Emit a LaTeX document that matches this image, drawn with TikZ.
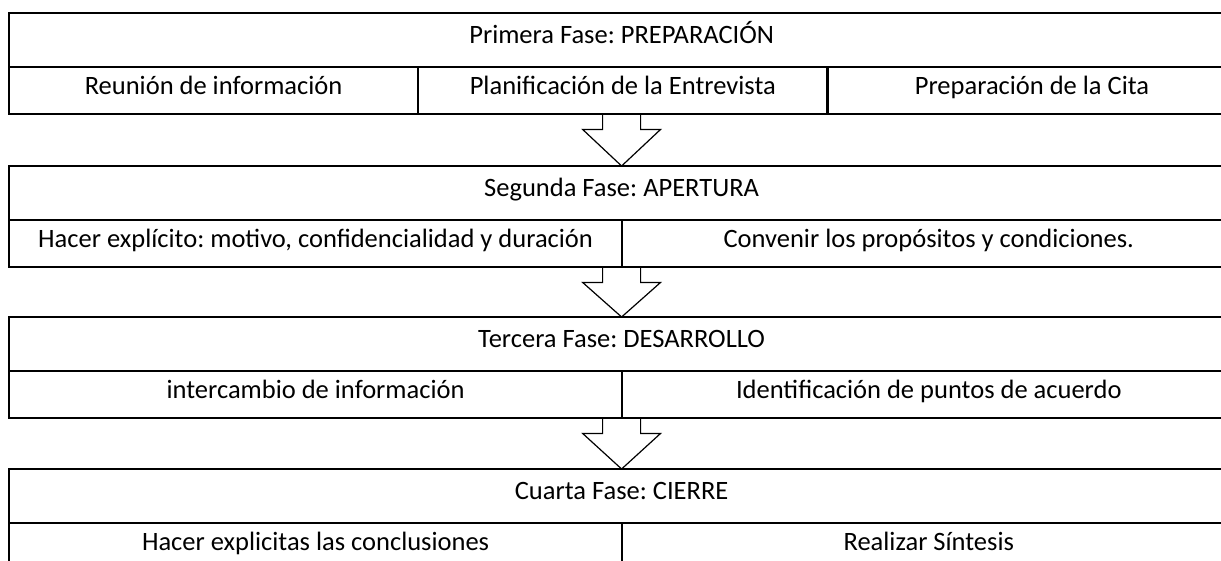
\documentclass[tikz,border=0pt]{standalone}
\usepackage{fontspec}
\setmainfont{Carlito}
\usetikzlibrary{positioning, calc}
\frenchspacing

\begin{document}
\begin{tikzpicture}[
    x=1pt, y=-1pt,
    every node/.style={font=\fontsize{26.5}{30}\selectfont, text height=0.644em, text depth=0pt},
    title/.style={rectangle, draw=black, line width=1.2pt, minimum width=1224pt, minimum height=53pt, inner sep=0pt, anchor=north west},
    cell/.style={rectangle, draw=black, line width=1.2pt, minimum width=#1, minimum height=46pt, inner sep=0pt},
    frame/.style={draw=black, line width=2pt},
    blockarrow/.style={draw=black, line width=1.2pt, line join=miter}
]
\useasboundingbox (0,0) rectangle (1221,560);

% Primera fase
\node[title] (t1) at (9,13) {Primera Fase: PREPARACIÓN};
\node[cell=408pt, anchor=north west] (c11) at (t1.south west) {Reunión de información};
\node[cell=408pt, right=0pt of c11] (c12) {Planificación de la Entrevista};
\node[cell=408pt, right=0pt of c12] (c13) {Preparación de la Cita};
\draw[frame] (t1.north west) rectangle (c13.south east);

% Segunda fase
\node[title] (t2) at (9,166) {Segunda Fase: APERTURA};
\node[cell=612pt, anchor=north west] (c21) at (t2.south west) {Hacer explícito: motivo, confidencialidad y duración};
\node[cell=612pt, right=0pt of c21] (c22) {Convenir los propósitos y condiciones.};
\draw[frame] (t2.north west) rectangle (c22.south east);

% Tercera fase
\node[title] (t3) at (9,317) {Tercera Fase: DESARROLLO};
\node[cell=612pt, anchor=north west] (c31) at (t3.south west) {intercambio de información};
\node[cell=612pt, right=0pt of c31] (c32) {Identificación de puntos de acuerdo};
\draw[frame] (t3.north west) rectangle (c32.south east);

% Cuarta fase
\node[title] (t4) at (9,469) {Cuarta Fase: CIERRE};
\node[cell=612pt, anchor=north west] (c41) at (t4.south west) {Hacer explicitas las conclusiones};
\node[cell=612pt, right=0pt of c41] (c42) {Realizar Síntesis};
\draw[frame] (t4.north west) rectangle (c42.south east);

% Flechas
\coordinate (b1) at (t1.center |- c11.south);
\coordinate (b2) at (t2.center |- c21.south);
\coordinate (b3) at (t3.center |- c31.south);

\draw[blockarrow] ($(b1)+(-19,0)$) -- ($(b1)+(-19,15)$) -- ($(b1)+(-39,15)$) -- (t2.north)
    -- ($(b1)+(39,15)$) -- ($(b1)+(19,15)$) -- ($(b1)+(19,0)$);
\draw[blockarrow] ($(b2)+(-19,0)$) -- ($(b2)+(-19,15)$) -- ($(b2)+(-39,15)$) -- (t3.north)
    -- ($(b2)+(39,15)$) -- ($(b2)+(19,15)$) -- ($(b2)+(19,0)$);
\draw[blockarrow] ($(b3)+(-19,0)$) -- ($(b3)+(-19,15)$) -- ($(b3)+(-39,15)$) -- (t4.north)
    -- ($(b3)+(39,15)$) -- ($(b3)+(19,15)$) -- ($(b3)+(19,0)$);

\end{tikzpicture}
\end{document}
